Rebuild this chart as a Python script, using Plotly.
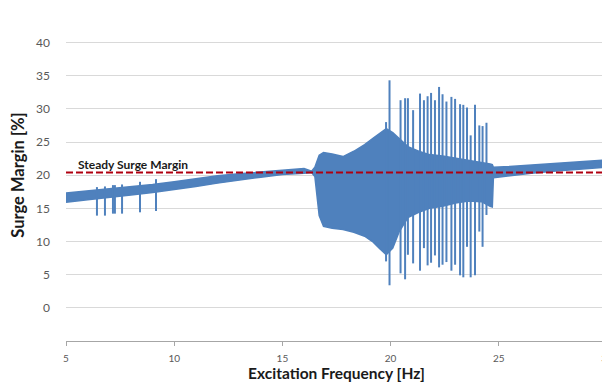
import plotly.graph_objects as go

# ---- data ----
env_freq = [5.0, 6.0, 7.0, 8.0, 9.0, 10.0, 11.0, 12.0, 13.0, 14.0, 15.0, 16.0, 16.35, 16.5,
            16.7, 16.9, 17.3, 17.8, 18.3, 18.8, 19.2, 19.5, 19.8, 20.1, 20.4, 20.8, 21.3,
            21.8, 22.4, 23.0, 23.6, 24.2, 24.6, 24.7, 24.75, 25.5, 26.5, 27.5, 28.5, 29.5, 30.0]
env_upper = [17.3, 17.6, 17.9, 18.2, 18.6, 19.0, 19.5, 19.9, 20.2, 20.5, 20.8, 21.0, 20.6, 21.2,
             23.0, 23.4, 23.2, 22.8, 23.6, 24.6, 25.6, 26.3, 27.0, 26.4, 25.5, 24.3, 23.6,
             23.1, 22.9, 22.6, 22.2, 21.9, 21.7, 21.6, 21.2, 21.3, 21.5, 21.7, 21.9, 22.1, 22.3]
env_lower = [15.9, 16.3, 16.7, 17.0, 17.4, 17.8, 18.3, 18.8, 19.3, 19.7, 20.1, 20.3, 20.4, 19.8,
             13.9, 12.3, 12.0, 11.8, 11.4, 10.8, 9.9, 8.9, 8.0, 9.0, 11.5, 13.6, 14.4,
             15.0, 15.3, 15.8, 16.1, 16.0, 15.3, 15.2, 19.6, 19.9, 20.3, 20.6, 20.9, 21.1, 21.2]

spike_freq = [6.43, 6.80, 7.17, 7.26, 7.59, 8.42, 9.16,
              19.79, 19.95, 20.46, 20.67, 20.80, 21.04, 21.36, 21.54, 21.71, 21.87, 22.05,
              22.24, 22.40, 22.58, 22.81, 22.98, 23.21, 23.36, 23.53, 23.70, 23.90, 24.10,
              24.25, 24.43]
spike_top = [18.2, 18.3, 18.5, 18.5, 18.6, 19.0, 19.4,
             28.0, 34.3, 31.3, 31.6, 31.6, 29.8, 32.3, 31.3, 31.9, 32.4, 31.3,
             33.3, 32.2, 31.1, 31.8, 31.5, 30.7, 30.6, 30.2, 26.0, 30.6, 27.5,
             27.4, 27.9]
spike_bottom = [13.9, 13.9, 14.2, 14.2, 14.2, 14.4, 14.6,
                7.0, 3.4, 5.2, 4.3, 8.0, 6.7, 5.6, 9.0, 6.4, 6.8, 7.9,
                6.1, 6.5, 6.9, 5.6, 6.5, 4.9, 4.6, 9.2, 4.6, 4.9, 11.5,
                9.2, 14.0]

steady_margin = 20.4
steady_label = "Steady Surge Margin"

y_ticks = [-5, 0, 5, 10, 15, 20, 25, 30, 35, 40, 45]
y_ticktext = ["", "0", "5", "10", "15", "20", "25", "30", "35", "40", ""]
x_ticks = [5, 10, 15, 20, 25, 30]

BLUE = "#4F81BD"
RED = "#B00010"

fig = go.Figure()

# band (envelope)
fig.add_trace(go.Scatter(
    x=env_freq + env_freq[::-1],
    y=env_upper + env_lower[::-1],
    fill="toself", fillcolor=BLUE,
    line=dict(color=BLUE, width=1.5),
    mode="lines", hoverinfo="skip", showlegend=False))

# spikes
sx, sy = [], []
for f, t, b in zip(spike_freq, spike_top, spike_bottom):
    sx += [f, f, None]
    sy += [b, t, None]
fig.add_trace(go.Scatter(x=sx, y=sy, mode="lines",
                         line=dict(color=BLUE, width=2), showlegend=False))

# steady surge margin line
fig.add_trace(go.Scatter(x=[5, 30], y=[steady_margin, steady_margin], mode="lines",
                         line=dict(color=RED, width=2, dash="7px,3px"), showlegend=False))

fig.add_annotation(x=5.45, y=steady_margin, text="<b>" + steady_label + "</b>",
                   xanchor="left", yanchor="bottom", showarrow=False, yshift=-1,
                   font=dict(family="Lato, Open Sans, sans-serif", size=12, color="#1a1a1a"))

# page body has an 8px default margin: figure is sized to fill the rest of the window
fig.update_layout(
    width=602, height=378,
    margin=dict(l=58, r=3, t=1, b=45),
    paper_bgcolor="white", plot_bgcolor="white",
    font=dict(family="Lato, Open Sans, sans-serif", color="#595959"),
    xaxis=dict(range=[5, 30], tickvals=x_ticks, showgrid=False, zeroline=False,
               showline=True, linecolor="#A6A6A6", linewidth=1, automargin=False,
               ticks="outside", ticklen=4, tickcolor="#A6A6A6",
               ticklabelstandoff=4, ticklabeloverflow="allow",
               tickfont=dict(size=10, color="#595959"),
               title=dict(text="<b>Excitation Frequency [Hz]</b>", standoff=5,
                          font=dict(size=15.5, color="#1a1a1a"))),
    yaxis=dict(range=[-5, 45.05], tickvals=y_ticks, ticktext=y_ticktext,
               showgrid=True, gridcolor="#D9D9D9", gridwidth=1, zeroline=False,
               showline=False, ticks="", tickfont=dict(size=12, color="#595959"),
               ticklabelstandoff=15, automargin=False,
               title=dict(text="<b>Surge Margin [%]</b>", standoff=12,
                          font=dict(size=16.5, color="#1a1a1a"))),
)

fig.write_html("out.html")
